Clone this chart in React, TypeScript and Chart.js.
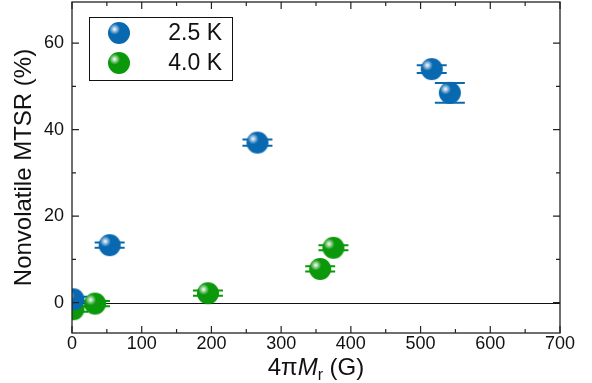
import { useEffect, useRef } from "react";
import { Chart, registerables } from "chart.js";

Chart.register(...registerables);

// ---- data ----
const seriesLabels = ["2.5 K", "4.0 K"];
const seriesColors = ["#0868b0", "#0b980b"];

const blueX = [2, 54, 266, 516, 542];
const blueY = [0.8, 13.3, 37.0, 54.0, 48.5];
const blueErr = [0.6, 0.6, 0.7, 0.9, 2.3];

const greenX = [2, 33, 195, 356, 375];
const greenY = [-1.5, -0.2, 2.2, 7.8, 12.7];
const greenErr = [0.6, 0.6, 0.6, 0.6, 0.6];

const xTicks = [0, 100, 200, 300, 400, 500, 600, 700];
const xMinorTicks = [50, 150, 250, 350, 450, 550, 650];
const yTicks = [0, 20, 40, 60];
const yMinorTicks = [-10, 10, 30, 50];

const xMin = 0;
const xMax = 700;
const yMin = -7;
const yMax = 69.5;

const yTitle = "Nonvolatile MTSR (%)";
const FONT = "'Liberation Sans', Arial, sans-serif";

function makeSphere(color: string, r: number): HTMLCanvasElement {
  const size = r * 2 + 2;
  const c = document.createElement("canvas");
  c.width = size;
  c.height = size;
  const ctx = c.getContext("2d")!;
  const cx = size / 2;
  const cy = size / 2;
  ctx.beginPath();
  ctx.arc(cx, cy, r, 0, Math.PI * 2);
  ctx.fillStyle = color;
  ctx.fill();
  const hx = cx - r * 0.4;
  const hy = cy - r * 0.35;
  const g = ctx.createRadialGradient(hx, hy, 0, hx, hy, r * 0.5);
  g.addColorStop(0, "rgba(255,255,255,1)");
  g.addColorStop(0.2, "rgba(255,255,255,0.8)");
  g.addColorStop(1, "rgba(255,255,255,0)");
  ctx.beginPath();
  ctx.arc(cx, cy, r, 0, Math.PI * 2);
  ctx.fillStyle = g;
  ctx.fill();
  return c;
}

const errors = [blueErr, greenErr];

const errorBarPlugin = {
  id: "errorBars",
  beforeDatasetsDraw(chart: any) {
    const { ctx, chartArea } = chart;
    const ys = chart.scales.y;
    ctx.save();
    ctx.beginPath();
    ctx.rect(chartArea.left, chartArea.top, chartArea.right - chartArea.left, chartArea.bottom - chartArea.top);
    ctx.clip();
    // zero line
    const y0 = Math.round(ys.getPixelForValue(0)) + 0.5;
    ctx.strokeStyle = "#111";
    ctx.lineWidth = 1;
    ctx.beginPath();
    ctx.moveTo(chartArea.left, y0);
    ctx.lineTo(chartArea.right, y0);
    ctx.stroke();
    chart.data.datasets.forEach((ds: any, di: number) => {
      const meta = chart.getDatasetMeta(di);
      const err = errors[di];
      ctx.strokeStyle = seriesColors[di];
      ctx.lineWidth = 2;
      meta.data.forEach((el: any, i: number) => {
        const v = ds.data[i].y;
        const x = el.x;
        const yt = ys.getPixelForValue(v + err[i]);
        const yb = ys.getPixelForValue(v - err[i]);
        ctx.beginPath();
        ctx.moveTo(x, yt);
        ctx.lineTo(x, yb);
        ctx.moveTo(x - 15, yt);
        ctx.lineTo(x + 15, yt);
        ctx.moveTo(x - 15, yb);
        ctx.lineTo(x + 15, yb);
        ctx.stroke();
      });
    });
    ctx.restore();
  },
};

const framePlugin = {
  id: "frame",
  afterDraw(chart: any) {
    const { ctx, chartArea } = chart;
    const xs = chart.scales.x;
    const ys = chart.scales.y;
    const { left, right, top, bottom } = chartArea;
    ctx.save();
    ctx.strokeStyle = "#222";
    ctx.lineWidth = 1.3;
    ctx.strokeRect(left, top, right - left, bottom - top);
    ctx.lineWidth = 1.2;
    const major = 7;
    const minor = 4;
    ctx.beginPath();
    const xt = (v: number, len: number) => {
      const px = xs.getPixelForValue(v);
      ctx.moveTo(px, bottom);
      ctx.lineTo(px, bottom - len);
      ctx.moveTo(px, top);
      ctx.lineTo(px, top + len);
    };
    const yt = (v: number, len: number) => {
      if (v < yMin || v > yMax) return;
      const py = ys.getPixelForValue(v);
      ctx.moveTo(left, py);
      ctx.lineTo(left + len, py);
      ctx.moveTo(right, py);
      ctx.lineTo(right - len, py);
    };
    xTicks.forEach((v) => xt(v, major));
    xMinorTicks.forEach((v) => xt(v, minor));
    yTicks.forEach((v) => yt(v, major));
    yMinorTicks.forEach((v) => yt(v, minor));
    ctx.stroke();

    // x title: 4πM_r (G)
    ctx.fillStyle = "#111";
    ctx.textBaseline = "alphabetic";
    ctx.textAlign = "left";
    const parts = [
      { t: "4π", f: `24px ${FONT}`, dy: 0 },
      { t: "M", f: `italic 24px ${FONT}`, dy: 0 },
      { t: "r", f: `16px ${FONT}`, dy: 5 },
      { t: " (G)", f: `24px ${FONT}`, dy: 0 },
    ];
    let total = 0;
    parts.forEach((p) => {
      ctx.font = p.f;
      total += ctx.measureText(p.t).width;
    });
    let cx = (left + right) / 2 - total / 2;
    const base = 375;
    parts.forEach((p) => {
      ctx.font = p.f;
      ctx.fillText(p.t, cx, base + p.dy);
      cx += ctx.measureText(p.t).width;
    });

    // legend
    const lx = 89.5, ly = 17.5, lw = 143, lh = 63;
    ctx.fillStyle = "#fff";
    ctx.fillRect(lx, ly, lw, lh);
    ctx.strokeStyle = "#111";
    ctx.lineWidth = 1;
    ctx.strokeRect(lx, ly, lw, lh);
    const rows = [33, 63];
    seriesLabels.forEach((lab, i) => {
      const img = spheres[i];
      ctx.drawImage(img, 119 - img.width / 2, rows[i] - img.height / 2);
      ctx.fillStyle = "#111";
      ctx.font = `23px ${FONT}`;
      ctx.textAlign = "right";
      ctx.textBaseline = "middle";
      ctx.fillText(lab, 222, rows[i] + 1);
    });
    ctx.restore();
  },
};

const spheres = [makeSphere(seriesColors[0], 11), makeSphere(seriesColors[1], 11)];

export default function App() {
  const ref = useRef<HTMLCanvasElement | null>(null);
  useEffect(() => {
    document.body.style.margin = "0";
    const canvas = ref.current!;
    const mk = (xs: number[], ys: number[]) => xs.map((x, i) => ({ x, y: ys[i] }));
    const chart = new Chart(canvas, {
      type: "scatter",
      data: {
        datasets: [
          {
            label: seriesLabels[0],
            data: mk(blueX, blueY),
            pointStyle: spheres[0] as any,
            pointRadius: 11,
            backgroundColor: seriesColors[0],
            borderColor: seriesColors[0],
            clip: 0 as any,
          },
          {
            label: seriesLabels[1],
            data: mk(greenX, greenY),
            pointStyle: spheres[1] as any,
            pointRadius: 11,
            backgroundColor: seriesColors[1],
            borderColor: seriesColors[1],
            clip: 0 as any,
          },
        ],
      },
      options: {
        animation: false,
        responsive: false,
        maintainAspectRatio: false,
        layout: { autoPadding: false, padding: { top: 2, right: 32, left: 0, bottom: 0 } },
        plugins: { legend: { display: false }, tooltip: { enabled: false } },
        scales: {
          x: {
            type: "linear",
            min: xMin,
            max: xMax,
            afterBuildTicks: (s: any) => {
              s.ticks = xTicks.map((v) => ({ value: v }));
            },
            afterFit: (s: any) => {
              s.height = 50;
              s.paddingLeft = 0;
              s.paddingRight = 0;
              s.paddingTop = 0;
              s.paddingBottom = 0;
            },
            grid: { display: false, drawTicks: false },
            border: { display: false },
            ticks: {
              color: "#111",
              padding: 0,
              maxRotation: 0,
              font: { family: FONT, size: 18 },
            },
          },
          y: {
            type: "linear",
            min: yMin,
            max: yMax,
            afterBuildTicks: (s: any) => {
              s.ticks = yTicks.map((v) => ({ value: v }));
            },
            afterFit: (s: any) => {
              s.width = 72;
              s.paddingTop = 0;
              s.paddingBottom = 0;
              s.paddingLeft = 0;
              s.paddingRight = 0;
            },
            grid: { display: false, drawTicks: false },
            border: { display: false },
            ticks: {
              color: "#111",
              padding: 8,
              font: { family: FONT, size: 18 },
            },
            title: {
              display: true,
              text: yTitle,
              color: "#111",
              padding: { top: 10, bottom: 0 },
              font: { family: FONT, size: 24 },
            },
          },
        },
      },
      plugins: [errorBarPlugin, framePlugin],
    });
    return () => chart.destroy();
  }, []);
  return (
    <div style={{ width: 592, height: 383, position: "relative" }}>
      <canvas ref={ref} width={592} height={383} style={{ display: "block" }} />
    </div>
  );
}
